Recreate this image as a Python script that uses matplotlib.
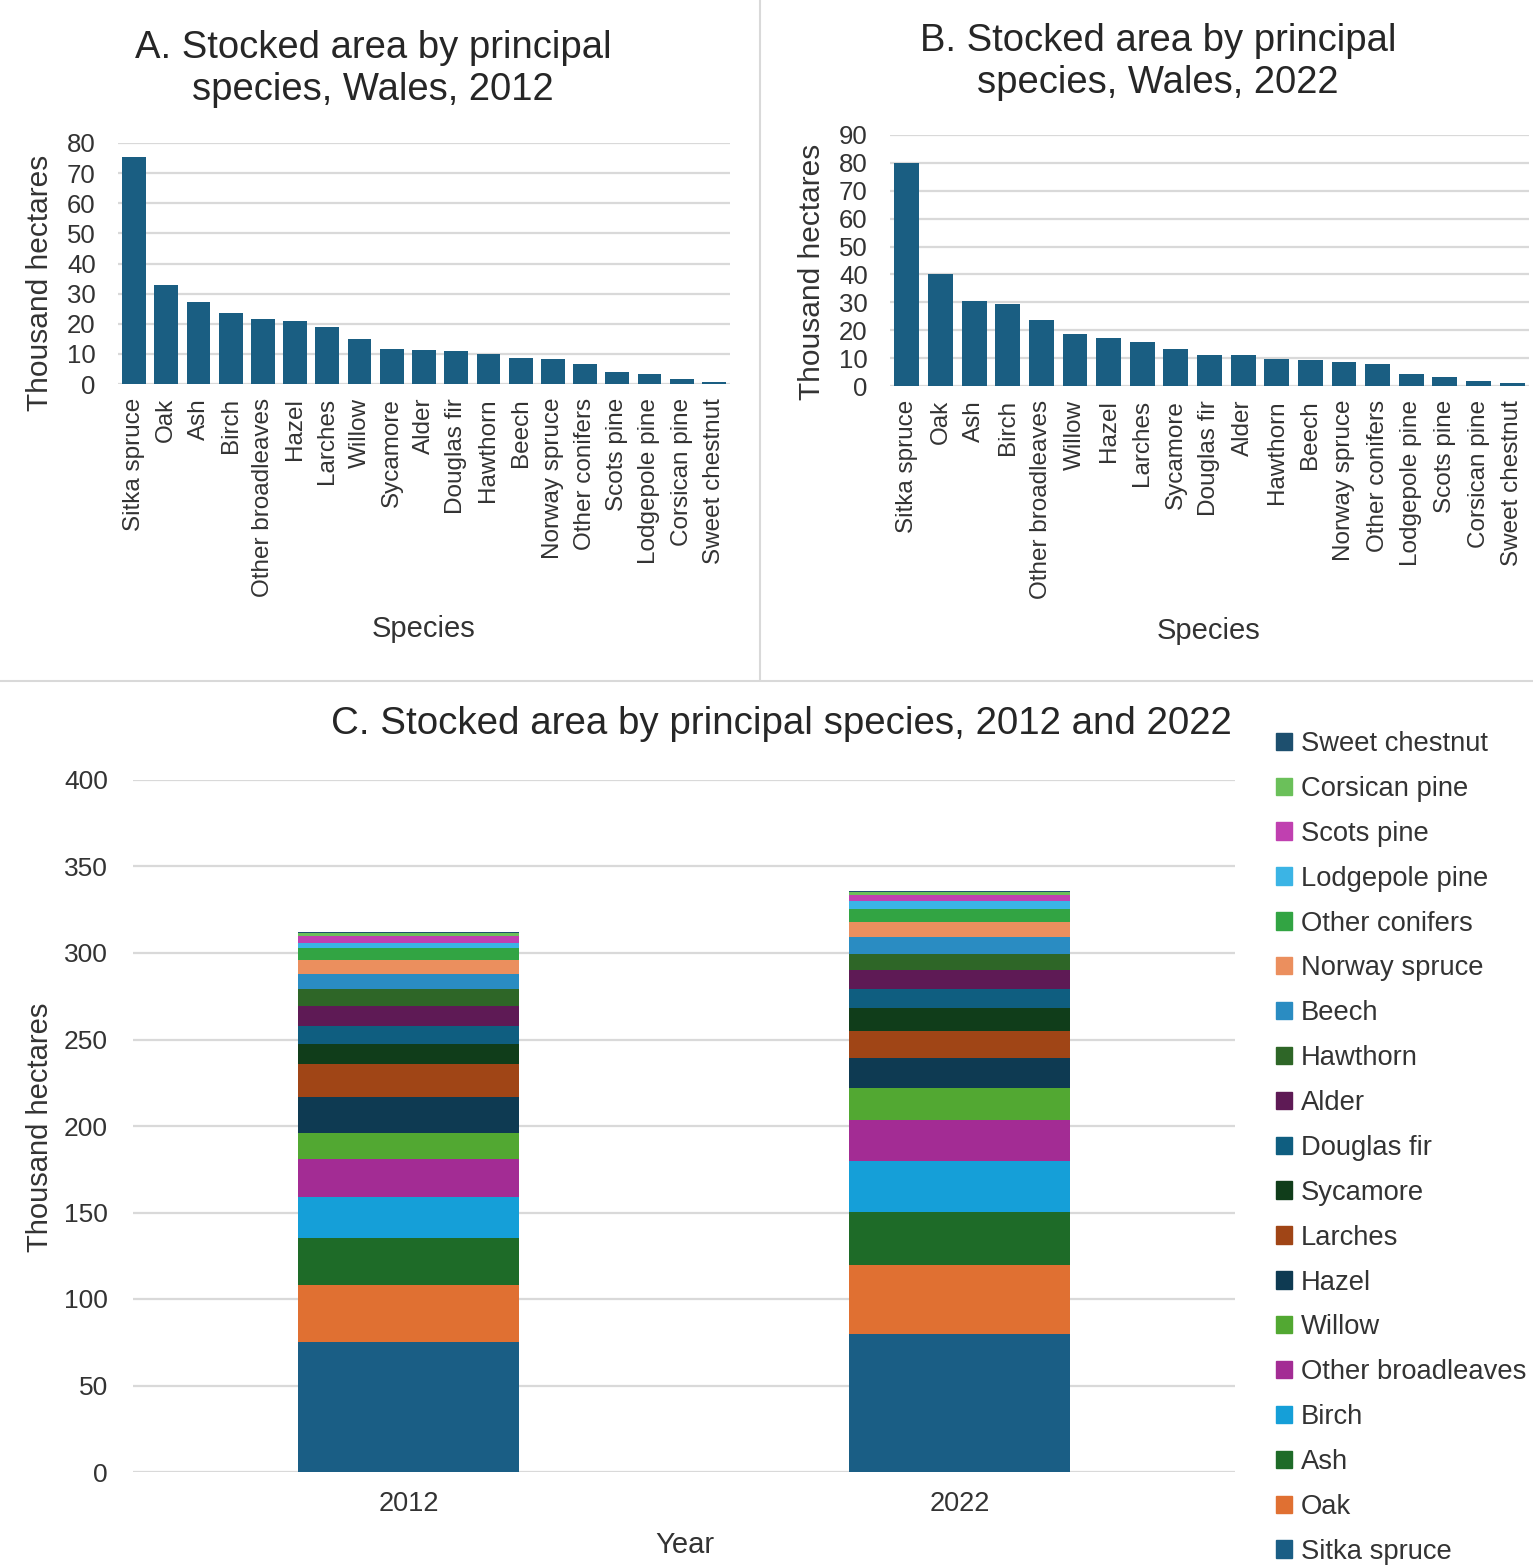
import numpy as np
import matplotlib
matplotlib.use('Agg')
import matplotlib.pyplot as plt
from matplotlib.patches import Patch
from matplotlib.lines import Line2D

plt.rcParams['font.family'] = ['Liberation Sans', 'DejaVu Sans']

# species in stacking order (bottom to top of chart C)
species = ['Sitka spruce', 'Oak', 'Ash', 'Birch', 'Other broadleaves', 'Willow',
           'Hazel', 'Larches', 'Sycamore', 'Douglas fir', 'Alder', 'Hawthorn',
           'Beech', 'Norway spruce', 'Other conifers', 'Lodgepole pine',
           'Scots pine', 'Corsican pine', 'Sweet chestnut']
# thousand hectares, same order as species
area_2012 = [75.3, 33.0, 27.2, 23.7, 21.6, 15.0, 20.9, 18.9, 11.6, 10.8, 11.2,
             10.0, 8.7, 8.3, 6.6, 3.2, 4.0, 1.5, 0.8]
area_2022 = [79.8, 40.0, 30.4, 29.5, 23.6, 18.6, 17.2, 15.6, 13.4, 11.0, 11.0,
             9.6, 9.5, 8.6, 7.9, 4.2, 3.4, 1.7, 0.9]
years = ['2012', '2022']

# order of bars in charts A and B
order_2012 = ['Sitka spruce', 'Oak', 'Ash', 'Birch', 'Other broadleaves', 'Hazel',
              'Larches', 'Willow', 'Sycamore', 'Alder', 'Douglas fir', 'Hawthorn',
              'Beech', 'Norway spruce', 'Other conifers', 'Scots pine',
              'Lodgepole pine', 'Corsican pine', 'Sweet chestnut']
order_2022 = ['Sitka spruce', 'Oak', 'Ash', 'Birch', 'Other broadleaves', 'Willow',
              'Hazel', 'Larches', 'Sycamore', 'Douglas fir', 'Alder', 'Hawthorn',
              'Beech', 'Norway spruce', 'Other conifers', 'Lodgepole pine',
              'Scots pine', 'Corsican pine', 'Sweet chestnut']

colours = ['#1a5e85', '#e07032', '#1e6b28', '#159fd8', '#a32c94', '#52a832',
           '#0e3a52', '#a04516', '#103d1a', '#0f5e80', '#5e1a55', '#2e6627',
           '#2a8cc2', '#eb8f5e', '#32a443', '#3bb4e5', '#c040b0', '#6bc05a',
           '#1d4f6e']

bar_col = '#1a5e82'
grid_col = '#d9d9d9'
txt = '#333333'
W, H = 1533, 1567

fig = plt.figure(figsize=(W / 100, H / 100), dpi=100)

def box(l, r, t, b):
    return [l / W, 1 - b / H, (r - l) / W, (b - t) / H]

def style(ax):
    for s in ax.spines.values():
        s.set_visible(False)
    ax.set_axisbelow(True)
    ax.yaxis.grid(True, color=grid_col, lw=1.6)
    ax.tick_params(length=0, colors=txt)

def small_chart(rect, order, values, ymax, title, tx, ty, ylx, yly, xlx, xly, ypad):
    ax = fig.add_axes(box(*rect))
    lookup = dict(zip(species, values))
    vals = [lookup[s] for s in order]
    x = np.arange(len(order))
    ax.bar(x, vals, width=0.74, color=bar_col)
    ax.set_xlim(-0.5, len(order) - 0.5)
    ax.set_ylim(0, ymax)
    ax.set_yticks(np.arange(0, ymax + 1, 10))
    ax.set_xticks(x)
    ax.set_xticklabels(order, rotation=90, fontsize=17.5)
    style(ax)
    ax.tick_params(axis='y', labelsize=18.5, pad=ypad)
    ax.tick_params(axis='x', pad=10)
    fig.text(tx / W, 1 - ty / H, title, ha='center', va='center', fontsize=27.5,
             color='#262626', linespacing=1.2)
    fig.text(ylx / W, 1 - yly / H, 'Thousand hectares', rotation=90, ha='center',
             va='center', fontsize=21.5, color=txt)
    fig.text(xlx / W, 1 - xly / H, 'Species', ha='center', va='center',
             fontsize=21, color=txt)

small_chart((118, 730, 143, 384), order_2012, area_2012, 80,
            'A. Stocked area by principal\nspecies, Wales, 2012', 373, 69,
            40, 283, 424, 629, 16)
small_chart((890, 1529, 135, 386), order_2022, area_2022, 90,
            'B. Stocked area by principal\nspecies, Wales, 2022', 1158, 62,
            812, 272, 1209, 631, 16)

# panel separators
fig.add_artist(Line2D([760 / W, 760 / W], [1, 1 - 680 / H], color=grid_col, lw=1.5))
fig.add_artist(Line2D([0, 1], [1 - 681 / H, 1 - 681 / H], color=grid_col, lw=1.5))

# chart C: stacked bars
axc = fig.add_axes(box(133, 1235, 780, 1472))
xc = np.arange(len(years))
bottom = np.zeros(len(years))
handles = []
for i, s in enumerate(species):
    v = np.array([area_2012[i], area_2022[i]])
    axc.bar(xc, v, bottom=bottom, width=0.4, color=colours[i], label=s)
    bottom += v
    handles.append(Patch(color=colours[i], label=s))
axc.set_xlim(-0.5, 1.5)
axc.set_ylim(0, 400)
axc.set_yticks(np.arange(0, 401, 50))
axc.set_xticks(xc)
axc.set_xticklabels(years)
style(axc)
axc.tick_params(axis='y', labelsize=19, pad=18)
axc.tick_params(axis='x', labelsize=19.5, pad=14)
fig.text(781 / W, 1 - 724 / H, 'C. Stocked area by principal species, 2012 and 2022',
         ha='center', va='center', fontsize=27.7, color='#262626')
fig.text(40 / W, 1 - 1127 / H, 'Thousand hectares', rotation=90, ha='center',
         va='center', fontsize=21, color=txt)
fig.text(685 / W, 1 - 1545 / H, 'Year', ha='center', va='center',
         fontsize=21, color=txt)

fig.legend(handles=handles[::-1], loc='upper left',
           bbox_to_anchor=(1276 / W, 1 - 731 / H), frameon=False, fontsize=19.7,
           handlelength=0.6, handleheight=0.6, handletextpad=0.3,
           labelspacing=0.69, borderaxespad=0, borderpad=0, labelcolor=txt)

fig.savefig('out.png', dpi=100, facecolor='white')
